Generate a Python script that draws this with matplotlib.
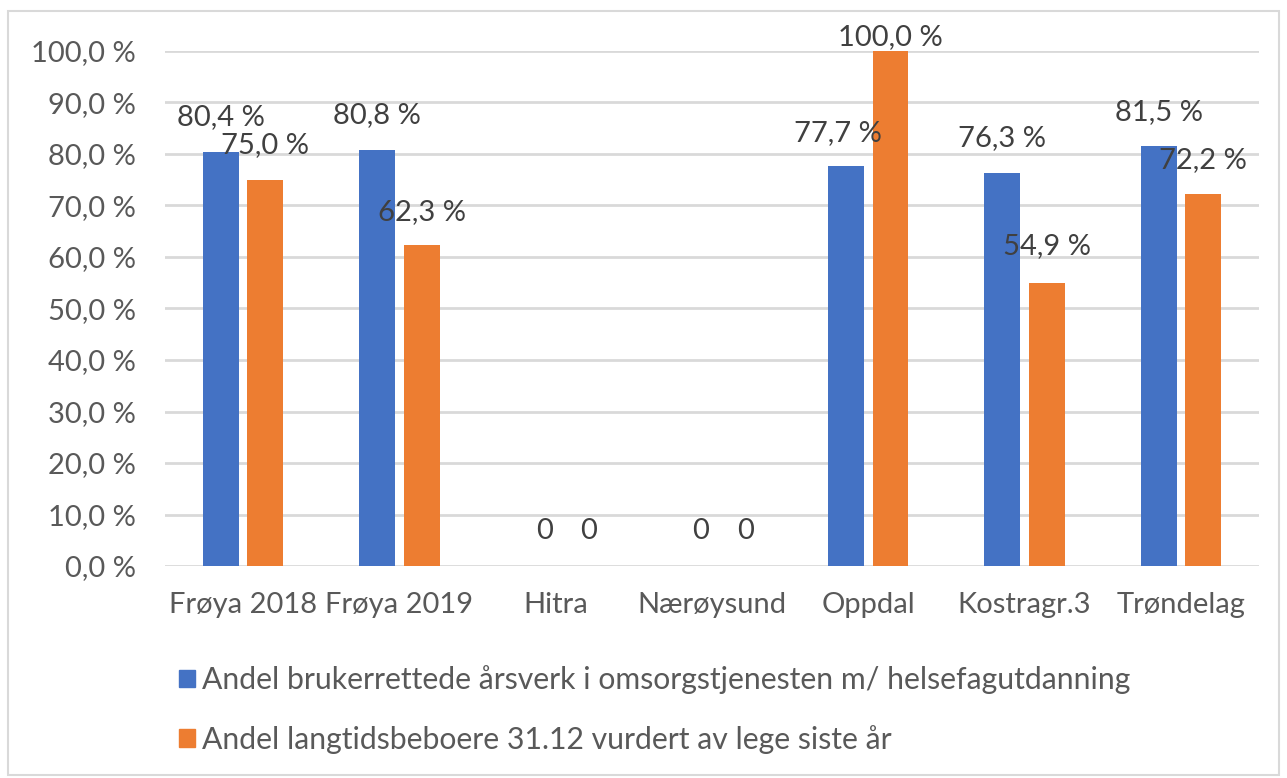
import matplotlib
matplotlib.use("Agg")
import matplotlib.pyplot as plt
import numpy as np
from matplotlib.patches import Rectangle

plt.rcParams['font.family'] = ['Lato', 'DejaVu Sans']

categories = ["Frøya 2018", "Frøya 2019", "Hitra", "Nærøysund", "Oppdal", "Kostragr.3", "Trøndelag"]
series_names = [
    "Andel brukerrettede årsverk i omsorgstjenesten m/ helsefagutdanning",
    "Andel langtidsbeboere 31.12 vurdert av lege siste år",
]
blue_vals = [80.4, 80.8, 0, 0, 77.7, 76.3, 81.5]
orange_vals = [75.0, 62.3, 0, 0, 100.0, 54.9, 72.2]
yticks = [0, 10, 20, 30, 40, 50, 60, 70, 80, 90, 100]

# label anchor heights (data units) as placed in the report
blue_label_y = [87.2, 87.6, 6.8, 6.8, 84.1, 83.1, 88.2]
orange_label_y = [81.7, 68.7, 6.8, 6.8, 102.7, 62.1, 78.8]
blue_label_dx = [0.0, 0.0, 0.07, 0.07, -0.05, 0.0, 0.0]
orange_label_dx = [0.0, 0.0, 0.07, 0.07, 0.0, 0.0, 0.0]

BLUE = "#4472C4"
ORANGE = "#ED7D31"
GRID = "#D9D9D9"
TICK = "#595959"
LABEL = "#404040"
FS = 21
LEG_FS = 21.7

W, H = 1287, 778
fig = plt.figure(figsize=(W / 100, H / 100), dpi=100)
fig.patch.set_facecolor("white")

# chart border
fig.patches.append(Rectangle((8 / W, 1 - 775 / H), (1279 - 8) / W, (775 - 11) / H,
                             transform=fig.transFigure, fill=False,
                             edgecolor=GRID, linewidth=1.5))

left, right, top, bottom = 165, 1259, 51, 566
ax = fig.add_axes([left / W, 1 - bottom / H, (right - left) / W, (bottom - top) / H])

x = np.arange(len(categories))
bw = 0.23
off = 0.142
ax.bar(x - off, blue_vals, bw, color=BLUE, zorder=3)
ax.bar(x + off, orange_vals, bw, color=ORANGE, zorder=3)

def fmt(v):
    if v == 0:
        return "0"
    return f"{v:.1f}".replace(".", ",") + " %"

for i in range(len(categories)):
    ax.text(x[i] - off + blue_label_dx[i], blue_label_y[i], fmt(blue_vals[i]),
            ha="center", va="center", fontsize=FS, color=LABEL, zorder=5, clip_on=False)
    ax.text(x[i] + off + orange_label_dx[i], orange_label_y[i], fmt(orange_vals[i]),
            ha="center", va="center", fontsize=FS, color=LABEL, zorder=5, clip_on=False)

ax.set_xlim(-0.5, len(categories) - 0.5)
ax.set_ylim(0, 100)
ax.set_yticks(yticks)
ax.set_yticklabels([f"{t:.1f}".replace(".", ",") + " %" for t in yticks])
ax.set_xticks(x)
ax.set_xticklabels(categories)
ax.tick_params(axis="both", length=0, labelsize=FS, labelcolor=TICK)
ax.tick_params(axis="y", pad=21)
ax.tick_params(axis="x", pad=19)
ax.yaxis.grid(True, color=GRID, linewidth=2, zorder=0)
ax.set_axisbelow(True)
for s in ax.spines.values():
    s.set_visible(False)

handles = [Rectangle((0, 0), 1, 1, color=BLUE), Rectangle((0, 0), 1, 1, color=ORANGE)]
fig.legend(handles, series_names, loc="upper left",
           bbox_to_anchor=(179 / W, 1 - 665 / H), frameon=False,
           fontsize=LEG_FS, labelcolor=TICK, handlelength=0.52, handleheight=0.52,
           handletextpad=0.25, labelspacing=1.02, borderpad=0, borderaxespad=0)

fig.savefig("out.png", dpi=100, facecolor="white")
